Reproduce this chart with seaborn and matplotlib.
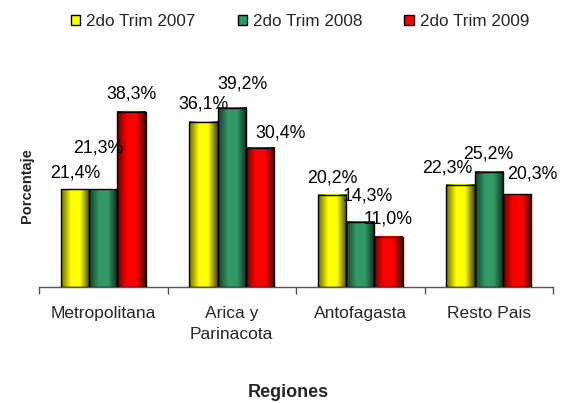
import numpy as np
import pandas as pd
import matplotlib
matplotlib.use('Agg')
import matplotlib.pyplot as plt
import seaborn as sns
from matplotlib.colors import LinearSegmentedColormap, to_rgb
from matplotlib.patches import Patch

# data
regiones = ['Metropolitana', 'Arica y\nParinacota', 'Antofagasta', 'Resto Pais']
periodos = ['2do Trim 2007', '2do Trim 2008', '2do Trim 2009']
trim_2007 = [21.4, 36.1, 20.2, 22.3]
trim_2008 = [21.3, 39.2, 14.3, 25.2]
trim_2009 = [38.3, 30.4, 11.0, 20.3]
colores = ['#ffff00', '#339966', '#ff0000']

# label nudges in pixels (dx, dy above bar top), per period then region
nudge = [
    [(0, 12), (0, 13), (0, 12), (-13, 12)],
    [(-5, 37), (11, 19), (7, 21), (0, 13)],
    [(0, 13), (21, 10), (0, 13), (15, 16)],
]

df = pd.DataFrame({
    'region': regiones * 3,
    'periodo': np.repeat(periodos, len(regiones)),
    'pct': trim_2007 + trim_2008 + trim_2009,
})

sns.set_theme(style='white')
plt.rcParams['font.family'] = ['Liberation Sans', 'DejaVu Sans']

fig = plt.figure(figsize=(5.64, 4.03), dpi=100)
ax = fig.add_axes([39 / 564, 116 / 403, 514 / 564, 206 / 403])

sns.barplot(data=df, x='region', y='pct', hue='periodo', hue_order=periodos,
            palette=colores, width=0.66, edgecolor='black', linewidth=1,
            legend=False, ax=ax)


def shade(c):
    r = np.array(to_rgb(c))
    return LinearSegmentedColormap.from_list(
        '', [(0, r * 0.42), (0.35, r), (0.66, r), (1, r * 0.28)])


grad = np.linspace(0, 1, 64)[None, :]
for i, cont in enumerate(ax.containers):
    cm = shade(colores[i])
    for j, bar in enumerate(cont):
        x0, w, h = bar.get_x(), bar.get_width(), bar.get_height()
        ax.imshow(grad, extent=[x0, x0 + w, 0, h], cmap=cm, aspect='auto',
                  interpolation='bilinear', zorder=2)
        bar.set_facecolor('none')
        bar.set_zorder(3)
        dx, dy = nudge[i][j]
        ax.annotate(f'{h:.1f}'.replace('.', ',') + '%', (x0 + w / 2, h),
                    xytext=(dx, dy), textcoords='offset pixels',
                    ha='center', va='baseline', fontsize=12.8, color='black',
                    annotation_clip=False)

ax.set_xlim(-0.5, 3.5)
ax.set_ylim(0, 45)
ax.set_yticks([])
for s in ['left', 'right', 'top']:
    ax.spines[s].set_visible(False)
ax.spines['bottom'].set_color('#555555')
ax.spines['bottom'].set_linewidth(1)
ax.set_xticks(np.arange(-0.5, 4, 1), minor=True)
ax.tick_params(axis='x', which='minor', length=5, width=1, color='#555555',
               direction='out', bottom=True)
ax.tick_params(axis='x', which='major', length=0, pad=14, labelsize=12.5)
ax.set_xticklabels(regiones, linespacing=1.5)

ax.set_xlabel('Regiones', fontsize=13, fontweight='bold')
ax.xaxis.set_label_coords(0.486, -0.512)
ax.xaxis.label.set_va('center')
ax.set_ylabel('Porcentaje', fontsize=10.5, fontweight='bold')
ax.yaxis.set_label_coords(-0.023, 0.49)
ax.yaxis.label.set_va('center')

handles = [Patch(facecolor=c, edgecolor='black', linewidth=1) for c in colores]
fig.legend(handles, periodos, loc='center', bbox_to_anchor=(0.532, 0.946),
           ncol=3, frameon=False, fontsize=12.3, handlelength=0.55,
           handleheight=0.55, handletextpad=0.35, columnspacing=2.45)

fig.savefig('out.png', dpi=100)
